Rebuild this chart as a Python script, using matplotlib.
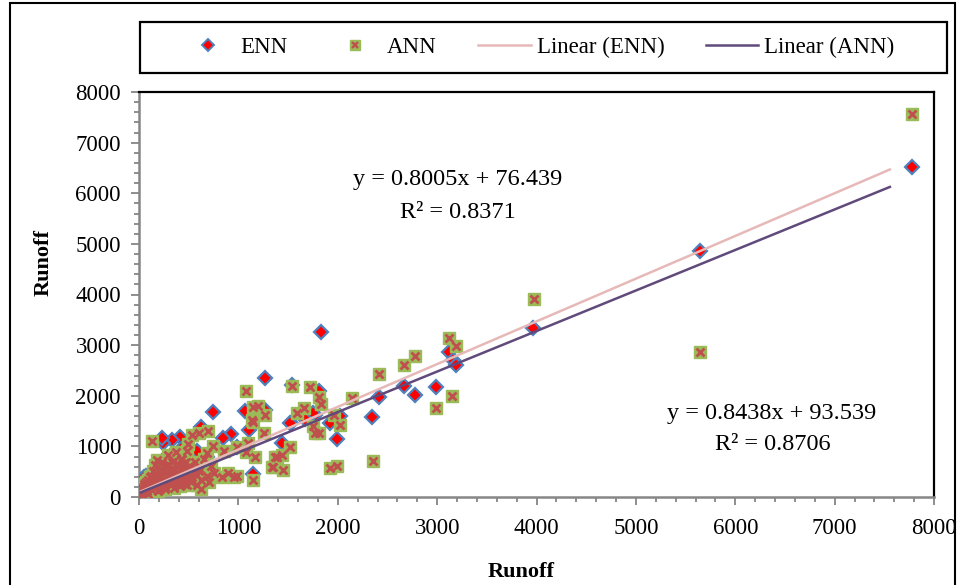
import numpy as np
import matplotlib
matplotlib.use("Agg")
import matplotlib.pyplot as plt
from matplotlib.lines import Line2D
from matplotlib.patches import Rectangle
from matplotlib.legend_handler import HandlerTuple
from matplotlib.ticker import MultipleLocator

plt.rcParams['font.family'] = ['Liberation Serif', 'DejaVu Serif']

# ENN points (observed, predicted)
enn_x = [7780, 5650, 3960, 3122, 3156, 3189, 2985, 2777, 2666, 2418, 2347, 2022, 1995, 1921,
         1828, 1814, 1771, 1754, 1670, 1542, 1526, 1519, 1435, 1268, 1268, 1150, 1110, 1066,
         983, 922, 848, 748, 620, 496, 412, 329, 245, 228, 67, 50,
         20, 30, 45, 55, 70, 85, 95, 110, 120, 135, 150, 165, 180, 195, 210, 225, 240, 255,
         270, 285, 300, 315, 330, 345, 360, 375, 390, 405, 420, 435, 450, 465, 480, 500,
         520, 540, 560, 580, 600, 640, 680]
enn_y = [6520, 4850, 3340, 2860, 2707, 2608, 2167, 2015, 2193, 1982, 1587, 1600, 1140, 1468,
         3267, 2101, 1620, 1654, 1540, 2213, 1468, 1468, 1060, 2358, 1719, 454, 1324, 1706,
         994, 1239, 1172, 1686, 1377, 1014, 1192, 1126, 1073, 1172, 415, 401,
         100, 200, 300, 130, 250, 380, 160, 300, 480, 220, 420, 560, 300, 680, 420, 250, 560, 760,
         380, 520, 300, 680, 450, 860, 580, 320, 720, 480, 940, 620, 400, 780, 560, 860,
         480, 720, 400, 900, 640, 520, 800]

# ANN points (observed, predicted)
ann_x = [7780, 5650, 3974, 3122, 3189, 3146, 2985, 2777, 2666, 2418, 2351, 2140, 1995, 1921,
         2022, 1962, 1828, 1814, 1814, 1771, 1754, 1720, 1660, 1586, 1536, 1519, 1452, 1435,
         1385, 1368, 1345, 1335, 1268, 1258, 1200, 1167, 1150, 1150, 1150, 1134, 1100, 1076,
         1076, 989, 983, 956, 895, 855, 838, 748, 697, 687, 620, 604, 604, 586, 530, 496,
         184, 134,
         20, 30, 40, 50, 60, 70, 80, 90, 100, 110, 120, 130, 140, 150, 160, 170, 180, 190,
         200, 210, 220, 230, 240, 250, 260, 270, 280, 290, 300, 310, 320, 330, 340, 350,
         360, 370, 380, 390, 400, 410, 420, 430, 440, 450, 460, 470, 480, 490, 500, 520,
         540, 560, 580, 600, 620, 650, 680, 700, 720, 750,
         15, 25, 35, 45, 55, 65, 75, 85, 95, 105, 115, 125, 135, 145, 155, 165, 175, 185,
         195, 205, 215, 225, 235, 245, 255, 265, 275, 285, 295, 305, 315, 325, 335, 345,
         355, 365, 375, 385, 395, 405, 415, 425, 435, 445, 455, 465, 475, 485, 510, 530]
ann_y = [7560, 2860, 3920, 3136, 2984, 1996, 1753, 2786, 2608, 2425, 717, 1962, 618, 567,
         1423, 1620, 1838, 1982, 1271, 1258, 1403, 2167, 1753, 1654, 2200, 994, 534, 830,
         784, 797, 599, 587, 1620, 1258, 1798, 797, 1772, 336, 1488, 1521, 1073, 2101,
         895, 982, 415, 389, 480, 915, 389, 1014, 1310, 863, 336, 1271, 567, 435, 1225, 1047,
         731, 1113,
         60, 150, 90, 220, 120, 300, 180, 60, 250, 400, 150, 320, 520, 200, 640, 280, 450, 120,
         380, 560, 220, 700, 330, 480, 160, 600, 290, 820, 420, 250, 540, 700, 360, 180,
         460, 880, 300, 620, 420, 220, 760, 540, 350, 680, 260, 500, 900, 380, 620, 300,
         480, 700, 240, 520, 160, 760, 420, 300, 620, 480,
         30, 100, 180, 90, 260, 160, 230, 120, 340, 200, 290, 420, 130, 360, 250, 480, 190, 380,
         300, 560, 150, 440, 260, 620, 350, 200, 520, 400, 660, 320, 450, 240, 580, 400,
         720, 300, 500, 380, 640, 280, 560, 420, 760, 330, 600, 460, 700, 240, 560, 400]

# trendlines (slope, intercept) and x range
enn_fit = (0.8438, 93.539)
ann_fit = (0.8005, 76.439)
trend_x = [20, 7556]

W, H = 958, 585
fig = plt.figure(figsize=(9.58, 5.85), dpi=100)
ax = fig.add_axes([139 / W, 1 - 497 / H, (934 - 139) / W, (497 - 92) / H])

ax.plot(enn_x, enn_y, linestyle='none', marker='D', markersize=7.5,
        markerfacecolor='#FF0000', markeredgecolor='#4F81BD', markeredgewidth=1.6, zorder=3)
ax.plot(ann_x, ann_y, linestyle='none', marker='s', markersize=8,
        markerfacecolor='#9BBB59', markeredgecolor='#9BBB59', zorder=4)
ax.plot(ann_x, ann_y, linestyle='none', marker='x', markersize=6.2,
        markeredgecolor='#C0504D', markeredgewidth=2.0, zorder=5)

xs = np.array(trend_x)
ax.plot(xs, enn_fit[0] * xs + enn_fit[1], color='#E6B9B8', lw=1.8, zorder=6)
ax.plot(xs, ann_fit[0] * xs + ann_fit[1], color='#604A7B', lw=1.8, zorder=6)

ax.set_xlim(0, 8000)
ax.set_ylim(0, 8000)
ax.xaxis.set_major_locator(MultipleLocator(1000))
ax.yaxis.set_major_locator(MultipleLocator(1000))
ax.xaxis.set_minor_locator(MultipleLocator(200))
ax.yaxis.set_minor_locator(MultipleLocator(200))
ax.tick_params(which='major', direction='out', length=6, width=1.3, color='#868686',
               labelsize=16.5)
ax.tick_params(axis='x', which='major', pad=9)
ax.tick_params(axis='y', which='major', pad=7)
ax.tick_params(which='minor', direction='out', length=3.5, width=1.3, color='#868686')
for s in ['left', 'bottom']:
    ax.spines[s].set_color('#868686')
    ax.spines[s].set_linewidth(1.8)
for s in ['top', 'right']:
    ax.spines[s].set_color('black')
    ax.spines[s].set_linewidth(1.6)

fig.text(521 / W, 1 - 572 / H, 'Runoff', fontsize=16, fontweight='bold',
         ha='center', va='center')
fig.text(44 / W, 1 - 263 / H, 'Runoff', fontsize=16, fontweight='bold',
         ha='center', va='center', rotation=90)

fig.text(458 / W, 1 - 180 / H, 'y = 0.8005x + 76.439', fontsize=17.5, ha='center', va='center')
fig.text(458 / W, 1 - 212 / H, 'R² = 0.8371', fontsize=17.5, ha='center', va='center')
fig.text(772 / W, 1 - 414 / H, 'y = 0.8438x + 93.539', fontsize=17.5, ha='center', va='center')
fig.text(773 / W, 1 - 445 / H, 'R² = 0.8706', fontsize=17.5, ha='center', va='center')

# legend
h_enn = Line2D([], [], linestyle='none', marker='D', markersize=6.5, markerfacecolor='#FF0000',
               markeredgecolor='#4F81BD', markeredgewidth=1.4)
h_sq = Line2D([], [], linestyle='none', marker='s', markersize=7, markerfacecolor='#9BBB59',
              markeredgecolor='#9BBB59')
h_x = Line2D([], [], linestyle='none', marker='x', markersize=5, markeredgecolor='#C0504D',
             markeredgewidth=1.7)
h_l1 = Line2D([], [], color='#E6B9B8', lw=1.8)
h_l2 = Line2D([], [], color='#604A7B', lw=1.8)
fig.legend([h_enn, (h_sq, h_x), h_l1, h_l2], ['ENN', 'ANN', 'Linear (ENN)', 'Linear (ANN)'],
           handler_map={tuple: HandlerTuple(ndivide=1)},
           loc='center', bbox_to_anchor=(538 / W, 1 - 47 / H), ncol=4, frameon=False,
           fontsize=16.5, handlelength=2.3, columnspacing=1.8, handletextpad=0.25)
fig.patches.append(Rectangle((140 / W, 1 - 73 / H), (947 - 140) / W, 51 / H,
                             transform=fig.transFigure, fill=False, ec='black', lw=1.6))

# outer chart border
fig.patches.append(Rectangle((10 / W, -0.01), (955 - 10) / W, 1 - 3 / H + 0.01,
                             transform=fig.transFigure, fill=False, ec='black', lw=1.5))

fig.savefig('out.png', dpi=100)
